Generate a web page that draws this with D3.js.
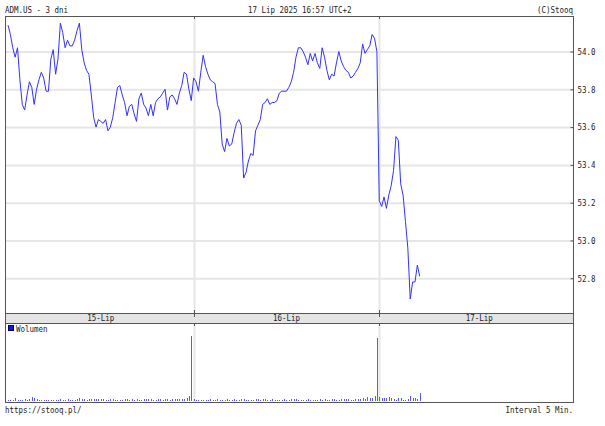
<!DOCTYPE html>
<html>
<head>
<meta charset="utf-8">
<script src="https://cdn.jsdelivr.net/npm/d3@7"></script>
<style>
  body { margin: 0; background: #fff; }
  svg { display: block; }
  text { font-family: "DejaVu Sans Mono", monospace; font-size: 9px; fill: #222; }
</style>
</head>
<body>
<svg id="chart" width="605" height="426"></svg>
<script>
// close prices, 5 min bars
let day1 = [
  54.14, 54.09, 54.02, 53.97, 54.02, 53.85, 53.72, 53.69, 53.77, 53.84,
  53.81, 53.72, 53.80, 53.85, 53.89, 53.86, 53.79, 53.79, 53.96, 54.01,
  53.88, 53.96, 54.15, 54.10, 54.02, 54.06, 54.03, 54.03, 54.06, 54.11,
  54.15, 54.01, 53.94, 53.90, 53.88, 53.77, 53.65, 53.60, 53.64, 53.63,
  53.62, 53.64, 53.58, 53.60, 53.65, 53.73, 53.81, 53.82, 53.77, 53.73,
  53.66, 53.71, 53.72, 53.67, 53.63, 53.75, 53.78, 53.72, 53.70, 53.66,
  53.72, 53.66, 53.73, 53.75, 53.76, 53.78, 53.80, 53.69, 53.76, 53.77,
  53.75, 53.72, 53.78, 53.82, 53.89, 53.88, 53.80, 53.74
];
let day2 = [
  53.86, 53.84, 53.79, 53.89, 53.98, 53.92, 53.88, 53.85, 53.84, 53.83,
  53.72, 53.68, 53.51, 53.47, 53.54, 53.50, 53.51, 53.57, 53.62, 53.64,
  53.61, 53.33, 53.36, 53.42, 53.46, 53.45, 53.58, 53.61, 53.64, 53.72,
  53.73, 53.75, 53.72, 53.73, 53.73, 53.74, 53.78, 53.79, 53.79, 53.79,
  53.81, 53.84, 53.89, 53.97, 54.02, 54.02, 54.00, 53.97, 53.93, 53.99,
  53.95, 53.99, 53.94, 53.91, 54.02, 53.97, 53.90, 53.85, 53.88, 53.87,
  53.94, 54.00, 53.95, 53.92, 53.90, 53.89, 53.86, 53.87, 53.89, 53.91,
  53.94, 54.04, 53.99, 54.01, 54.03, 54.09, 54.07, 54.00
];
let day3 = [
  53.21, 53.18, 53.23, 53.17, 53.24, 53.29, 53.37, 53.55, 53.53, 53.30,
  53.24, 53.10, 52.96, 52.69, 52.78, 52.78, 52.87, 52.81
];

// volume, thousands
let vol1 = [
  28, 22, 30, 62, 25, 30, 28, 35, 30, 40,
  82, 55, 35, 30, 25, 28, 30, 25, 22, 28,
  30, 25, 35, 28, 30, 40, 25, 30, 28, 35,
  55, 45, 38, 30, 40, 35, 42, 38, 45, 50,
  32, 30, 28, 35, 40, 30, 28, 25, 30, 35,
  40, 30, 45, 28, 35, 30, 25, 40, 32, 38,
  45, 30, 28, 35, 40, 30, 42, 38, 30, 45,
  35, 40, 45, 32, 40, 60, 110, 1310
];
let vol2 = [
  40, 28, 25, 30, 22, 28, 25, 35, 30, 25,
  38, 28, 30, 25, 35, 28, 30, 32, 25, 28,
  35, 40, 30, 28, 25, 30, 42, 38, 30, 35,
  45, 30, 28, 35, 30, 25, 28, 30, 35, 28,
  30, 40, 48, 35, 30, 28, 25, 30, 35, 28,
  30, 25, 28, 35, 30, 40, 28, 30, 35, 32,
  30, 28, 35, 38, 45, 40, 30, 28, 35, 40,
  45, 60, 50, 85, 55, 70, 95, 1270
];
let vol3 = [85, 65, 60, 60, 80, 60, 40, 25, 60, 60, 20, 25, 45, 100, 60, 55, 45, 170];

let priceTicks = [52.8, 53.0, 53.2, 53.4, 53.6, 53.8, 54.0];
let priceRange = [52.616, 54.188];
let dayLabels = ['15-Lip', '16-Lip', '17-Lip'];
let dayLabelAt = [39, 117, 198];
let dayStarts = [78, 156];

let prices = day1.concat(day2, day3);
let volumes = vol1.concat(vol2, vol3);

const L = 5, R = 573, T = 16, B = 313, VT = 323, VB = 402;
const CW = 4.5; // char width of the small font

let svg = d3.select('#chart');

let x = d3.scaleLinear().domain([0, 173]).range([8, 8 + 173 * 2.38]);
let y = d3.scaleLinear().domain(priceRange).range([B, T]);
let vy = d3.scaleLinear().domain([0, 1575]).range([VB - 1, VT]);

function squeeze(sel) {
  sel.attr('textLength', function() { return this.textContent.length * CW; })
    .attr('lengthAdjust', 'spacingAndGlyphs');
}

// header
svg.append('text').attr('x', L).attr('y', 13).text('ADM.US - 3 dni').call(squeeze);
svg.append('text').attr('x', 248).attr('y', 13).text('17 Lip 2025 16:57 UTC+2').call(squeeze);
svg.append('text').attr('x', R - 8 * CW).attr('y', 13).text('(C)Stooq').call(squeeze);

// grid
svg.append('g')
  .attr('transform', `translate(${R},0)`)
  .call(d3.axisRight(y).tickValues(priceTicks).tickSizeInner(-(R - L)).tickSizeOuter(0).tickFormat(''))
  .call(g => g.select('.domain').remove())
  .call(g => g.selectAll('line').attr('stroke', '#e6e6e6').attr('stroke-width', 2));

svg.append('g').selectAll('line')
  .data(dayStarts)
  .join('line')
  .attr('x1', d => Math.round(x(d)) + 0.5).attr('x2', d => Math.round(x(d)) + 0.5)
  .attr('y1', T).attr('y2', B)
  .attr('stroke', '#e6e6e6').attr('stroke-width', 2);

svg.append('g').selectAll('line')
  .data(dayStarts)
  .join('line')
  .attr('x1', d => Math.round(x(d)) + 0.5).attr('x2', d => Math.round(x(d)) + 0.5)
  .attr('y1', VT).attr('y2', VB)
  .attr('stroke', '#e6e6e6').attr('stroke-width', 2);

// price line
svg.append('path')
  .datum(prices)
  .attr('fill', 'none')
  .attr('stroke', '#3232ff')
  .attr('stroke-width', 1)
  .attr('d', d3.line().x((d, i) => x(i)).y(d => y(d)));

// volume bars
svg.append('g').selectAll('rect')
  .data(volumes)
  .join('rect')
  .attr('x', (d, i) => Math.round(x(i)))
  .attr('width', 1)
  .attr('y', d => Math.round(vy(d)))
  .attr('height', d => Math.round(vy(0)) - Math.round(vy(d)))
  .attr('fill', '#5858ff');

// date band
svg.append('rect').attr('x', L).attr('y', B).attr('width', R - L).attr('height', VT - B)
  .attr('fill', '#e4e4e4');
svg.append('g').selectAll('text')
  .data(dayLabels)
  .join('text')
  .attr('x', (d, i) => x(dayLabelAt[i]) - d.length * CW / 2)
  .attr('y', 321)
  .text(d => d)
  .call(squeeze);

// frames
let frame = svg.append('g').attr('fill', 'none').attr('stroke', '#555').attr('stroke-width', 1);
frame.append('rect').attr('x', L + 0.5).attr('y', T + 0.5).attr('width', R - L).attr('height', B - T);
frame.append('rect').attr('x', L + 0.5).attr('y', B + 0.5).attr('width', R - L).attr('height', VT - B);
frame.append('rect').attr('x', L + 0.5).attr('y', VT + 0.5).attr('width', R - L).attr('height', VB - VT);

// small day ticks on the frames
[T, B - 3, B + 1, VT].forEach(ty => {
  svg.append('g').selectAll('line')
    .data(dayStarts)
    .join('line')
    .attr('x1', d => Math.round(x(d)) + 0.5).attr('x2', d => Math.round(x(d)) + 0.5)
    .attr('y1', ty).attr('y2', ty + 3)
    .attr('stroke', '#555');
});

// price axis
svg.append('g')
  .attr('transform', `translate(${R + 0.5},0)`)
  .call(d3.axisRight(y).tickValues(priceTicks).tickSizeInner(-3).tickSizeOuter(0).tickPadding(4)
    .tickFormat(d3.format('.1f')))
  .call(g => g.select('.domain').remove())
  .call(g => g.selectAll('line').attr('stroke', '#555'))
  .call(g => g.selectAll('text')
    .attr('font-family', null).attr('font-size', null).attr('fill', null)
    .call(squeeze));

// legend
svg.append('rect').attr('x', 8.5).attr('y', 325.5).attr('width', 5).attr('height', 5)
  .attr('fill', '#1010ff').attr('stroke', '#000060').attr('stroke-width', 1);
svg.append('text').attr('x', 16).attr('y', 332).text('Wolumen').call(squeeze);

// footer
svg.append('text').attr('x', L).attr('y', 413).text('https://stooq.pl/').call(squeeze);
svg.append('text').attr('x', R - 15 * CW).attr('y', 413).text('Interval 5 Min.').call(squeeze);
</script>
</body>
</html>
